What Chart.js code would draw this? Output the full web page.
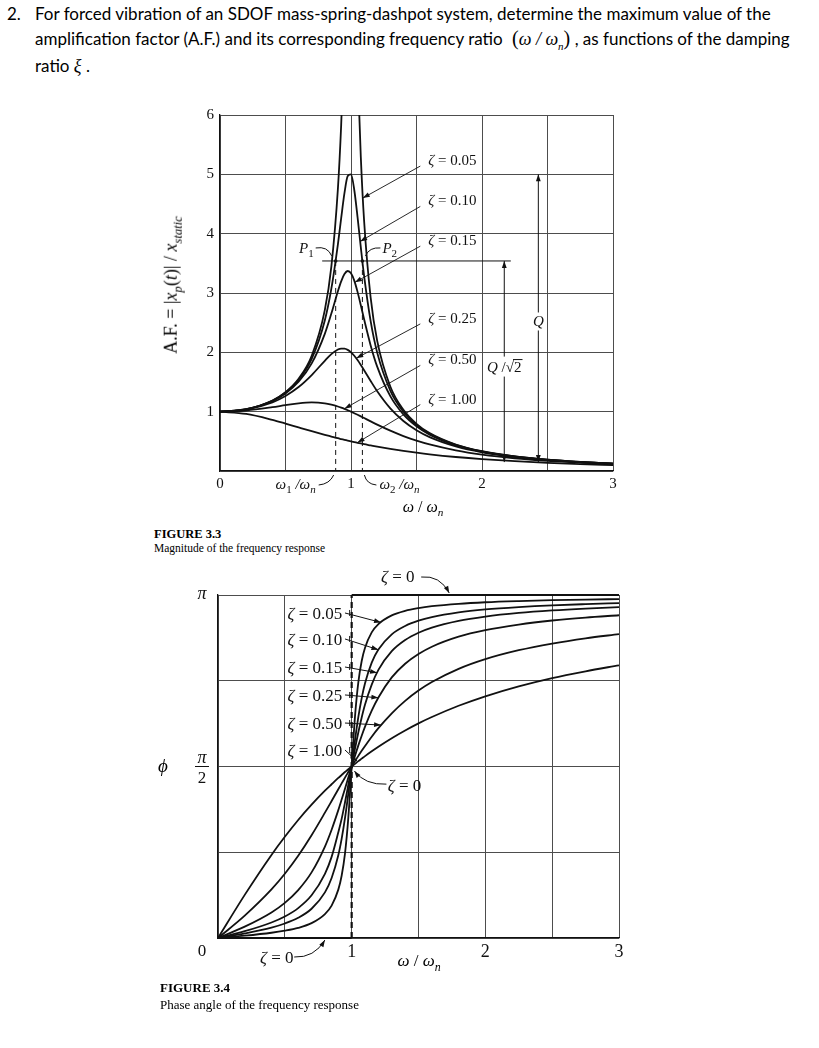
<!DOCTYPE html>
<html>
<head>
<meta charset="utf-8">
<title>Frequency response of an SDOF system</title>
<script src="https://cdn.jsdelivr.net/npm/chart.js@4.4.1/dist/chart.umd.min.js"></script>
<style>
  body { margin: 0; background: #fff; }
  #page { position: relative; width: 819px; height: 1048px; overflow: hidden; color: #000; }
  .q { position: absolute; font-family: Lato, "Open Sans", sans-serif; font-size: 17px; white-space: nowrap; line-height: 20px; }
  .mth { font-family: "Liberation Serif", serif; font-style: italic; font-size: 18px; }
  .mth sub { font-size: 11px; }
  .par { font-family: "Liberation Serif", serif; font-size: 20px; }
  .lbl { position: absolute; font-family: "Liberation Serif", serif; white-space: nowrap; transform: translate(-50%, -50%); }
  .lbl i sub, .lbl sub { font-size: 0.7em; }
  .cap { position: absolute; font-family: "Liberation Serif", serif; white-space: nowrap; line-height: 16px; }
  canvas { position: absolute; }
</style>
</head>
<body>
<div id="page">
  <div class="q" style="left:7px;top:4px">2.</div>
  <div class="q" style="left:35px;top:4px">For forced vibration of an SDOF mass-spring-dashpot system, determine the maximum value of the</div>
  <div class="q" style="left:35px;top:28px">amplification factor (A.F.) and its corresponding frequency ratio <span class="par" style="margin-left:5px">(</span><span class="mth">ω / ω<sub>n</sub></span><span class="par">)</span> , as functions of the damping</div>
  <div class="q" style="left:35px;top:56px">ratio <span class="mth">ξ</span> .</div>

  <canvas id="af" width="500" height="430" style="left:130px;top:95px"></canvas>
  <div class="lbl" style="left:173px;top:285px;font-size:18px;transform:translate(-50%,-50%) rotate(-90deg)">A.F. = |<i>x<sub>p</sub></i>(<i>t</i>)| / <i>x<sub>static</sub></i></div>
  <div class="lbl" style="left:423px;top:508px;font-size:16px"><i>ω</i> / <i>ω<sub>n</sub></i></div>
  <div class="cap" style="left:154px;top:526px;font-size:12.5px;font-weight:bold">FIGURE 3.3</div>
  <div class="cap" style="left:154px;top:540px;font-size:11.5px">Magnitude of the frequency response</div>

  <canvas id="phase" width="510" height="430" style="left:130px;top:555px"></canvas>
  <div class="lbl" style="left:163px;top:766px;font-size:19px"><i>ϕ</i></div>
  <div class="lbl" style="left:419px;top:963px;font-size:17px"><i>ω</i> / <i>ω<sub>n</sub></i></div>
  <div class="cap" style="left:160px;top:980px;font-size:13px;font-weight:bold">FIGURE 3.4</div>
  <div class="cap" style="left:160px;top:997px;font-size:13px">Phase angle of the frequency response</div>
</div>
<script>
// frequency ratio w/wn shared by every curve
const ratio = [0, 0.2, 0.4, 0.5, 0.6, 0.7, 0.8, 0.85, 0.9, 0.925, 0.95, 0.975, 1, 1.025, 1.05, 1.075, 1.1, 1.15, 1.2, 1.3, 1.4, 1.5, 1.6, 1.8, 2, 2.25, 2.5, 2.75, 3];
const zetas = ['0.05', '0.10', '0.15', '0.25', '0.50', '1.00'];

// amplification factor
const afZ005 = [1, 1.041, 1.189, 1.330, 1.556, 1.943, 2.712, 3.446, 4.757, 5.832, 7.346, 9.150, 10, 8.747, 6.815, 5.287, 4.218, 2.921, 2.193, 1.424, 1.031, 0.794, 0.638, 0.445, 0.333, 0.246, 0.190, 0.152, 0.125];
const afZ010 = [1, 1.041, 1.185, 1.322, 1.536, 1.891, 2.538, 3.073, 3.821, 4.261, 4.683, 4.971, 5, 4.736, 4.279, 3.768, 3.288, 2.525, 1.995, 1.356, 1.000, 0.778, 0.628, 0.441, 0.330, 0.245, 0.190, 0.152, 0.125];
const afZ015 = [1, 1.040, 1.179, 1.307, 1.504, 1.813, 2.311, 2.653, 3.029, 3.197, 3.320, 3.371, 3.333, 3.209, 3.019, 2.793, 2.557, 2.117, 1.759, 1.262, 0.954, 0.753, 0.613, 0.434, 0.327, 0.243, 0.189, 0.151, 0.124];
const afZ025 = [1, 1.036, 1.158, 1.265, 1.415, 1.617, 1.858, 1.970, 2.047, 2.064, 2.062, 2.041, 2.000, 1.942, 1.870, 1.787, 1.699, 1.517, 1.344, 1.055, 0.842, 0.686, 0.570, 0.414, 0.316, 0.237, 0.185, 0.149, 0.123];
const afZ050 = [1, 1.020, 1.075, 1.109, 1.140, 1.155, 1.140, 1.118, 1.087, 1.068, 1.047, 1.024, 1.000, 0.974, 0.948, 0.921, 0.893, 0.837, 0.782, 0.680, 0.589, 0.512, 0.448, 0.348, 0.277, 0.215, 0.172, 0.141, 0.117];
const afZ100 = [1, 0.962, 0.862, 0.800, 0.735, 0.671, 0.610, 0.581, 0.552, 0.539, 0.526, 0.513, 0.500, 0.488, 0.476, 0.464, 0.452, 0.431, 0.410, 0.372, 0.338, 0.308, 0.281, 0.236, 0.200, 0.165, 0.138, 0.117, 0.100];

// phase angle (radians)
const phZ005 = [0, 0.021, 0.048, 0.067, 0.093, 0.136, 0.219, 0.297, 0.443, 0.570, 0.772, 1.102, 1.571, 2.030, 2.344, 2.537, 2.659, 2.799, 2.875, 2.955, 2.997, 3.022, 3.039, 3.061, 3.075, 3.086, 3.094, 3.100, 3.104];
const phZ010 = [0, 0.042, 0.095, 0.133, 0.185, 0.268, 0.418, 0.550, 0.758, 0.908, 1.097, 1.323, 1.571, 1.813, 2.025, 2.197, 2.333, 2.522, 2.642, 2.781, 2.858, 2.906, 2.939, 2.982, 3.009, 3.031, 3.047, 3.058, 3.067];
const phZ015 = [0, 0.062, 0.142, 0.197, 0.274, 0.391, 0.588, 0.743, 0.968, 1.091, 1.241, 1.404, 1.571, 1.734, 1.885, 2.020, 2.138, 2.321, 2.456, 2.627, 2.729, 2.796, 2.843, 2.905, 2.944, 2.977, 3.000, 3.017, 3.030];
const phZ025 = [0, 0.104, 0.234, 0.322, 0.439, 0.601, 0.838, 0.992, 1.171, 1.268, 1.368, 1.470, 1.571, 1.669, 1.764, 1.853, 1.936, 2.082, 2.203, 2.387, 2.512, 2.601, 2.668, 2.760, 2.820, 2.871, 2.908, 2.935, 2.956];
const phZ050 = [0, 0.205, 0.445, 0.588, 0.753, 0.941, 1.148, 1.255, 1.363, 1.416, 1.469, 1.520, 1.571, 1.620, 1.668, 1.715, 1.759, 1.844, 1.922, 2.058, 2.172, 2.266, 2.344, 2.465, 2.554, 2.636, 2.697, 2.745, 2.783];
const phZ100 = [0, 0.395, 0.761, 0.927, 1.081, 1.221, 1.349, 1.408, 1.466, 1.493, 1.520, 1.545, 1.571, 1.595, 1.620, 1.643, 1.666, 1.710, 1.752, 1.830, 1.901, 1.966, 2.024, 2.127, 2.214, 2.305, 2.381, 2.443, 2.498];

// undamped phase: 0 below resonance, pi above
const zeta0Ratio = [0, 1, 1, 3];
const zeta0Phase = [0, 0, Math.PI, Math.PI];

// half power points and peak of the zeta = 0.10 curve
const halfPowerRatio = [0.883, 1.087];
const qPeak = 5;
const qHalf = 3.54;

const serif = '"Liberation Serif", "Times New Roman", serif';
const ink = '#111';
Chart.defaults.font.family = serif;
Chart.defaults.color = ink;

function series(xs, ys) {
  return xs.map((x, i) => ({ x: x, y: ys[i] }));
}

function curve(ys) {
  return {
    data: series(ratio, ys),
    borderColor: ink,
    borderWidth: 1.8,
    pointRadius: 0,
    cubicInterpolationMode: 'monotone',
    fill: false
  };
}

function line(ctx, x1, y1, x2, y2) {
  ctx.beginPath();
  ctx.moveTo(x1, y1);
  ctx.lineTo(x2, y2);
  ctx.stroke();
}

function head(ctx, fx, fy, tx, ty) {
  const a = Math.atan2(ty - fy, tx - fx), len = 7, half = 2.4;
  ctx.beginPath();
  ctx.moveTo(tx, ty);
  ctx.lineTo(tx - len * Math.cos(a) + half * Math.sin(a), ty - len * Math.sin(a) - half * Math.cos(a));
  ctx.lineTo(tx - len * Math.cos(a) - half * Math.sin(a), ty - len * Math.sin(a) + half * Math.cos(a));
  ctx.closePath();
  ctx.fill();
}

function arrow(ctx, x1, y1, x2, y2) {
  line(ctx, x1, y1, x2, y2);
  head(ctx, x1, y1, x2, y2);
}

function bend(ctx, x1, y1, cx, cy, x2, y2, tip) {
  ctx.beginPath();
  ctx.moveTo(x1, y1);
  ctx.quadraticCurveTo(cx, cy, x2, y2);
  ctx.stroke();
  if (tip) head(ctx, cx, cy, x2, y2);
}

// parts: [text, style]  r roman, i italic, s italic subscript, sr roman subscript
function rich(ctx, parts, x, y, size, align) {
  const font = st => (st === 'i' || st === 's' ? 'italic ' : '') + Math.round(st[0] === 's' ? size * 0.7 : size) + 'px ' + serif;
  let w = 0;
  parts.forEach(([t, st]) => { ctx.font = font(st); w += ctx.measureText(t).width; });
  let cx = align === 'center' ? x - w / 2 : align === 'right' ? x - w : x;
  ctx.textAlign = 'left';
  ctx.textBaseline = 'alphabetic';
  parts.forEach(([t, st]) => {
    ctx.font = font(st);
    ctx.fillText(t, cx, st[0] === 's' ? y + size * 0.25 : y);
    cx += ctx.measureText(t).width;
  });
  return w;
}

const afLabels = [
  { x: 1.59, y: 5.24, tx: 1.09, ty: 4.6 },
  { x: 1.59, y: 4.56, tx: 1.07, ty: 3.87 },
  { x: 1.59, y: 3.89, tx: 1.03, ty: 3.18 },
  { x: 1.59, y: 2.58, tx: 1.04, ty: 1.9 },
  { x: 1.59, y: 1.88, tx: 0.95, ty: 1.05 },
  { x: 1.59, y: 1.22, tx: 1.05, ty: 0.48 }
];

const afNotes = {
  id: 'afNotes',
  afterDatasetsDraw(chart) {
    const { ctx, scales: { x, y } } = chart;
    const X = v => x.getPixelForValue(v), Y = v => y.getPixelForValue(v);
    ctx.save();
    ctx.strokeStyle = ink;
    ctx.fillStyle = ink;
    ctx.lineWidth = 1;

    const p1x = X(halfPowerRatio[0]), p2x = X(halfPowerRatio[1]), ph = Y(qHalf), base = Y(0);
    line(ctx, X(0.78), ph, X(2.22), ph);
    ctx.setLineDash([5, 4]);
    line(ctx, p1x, ph, p1x, base);
    line(ctx, p2x, ph, p2x, base);
    ctx.setLineDash([]);
    [p1x, p2x].forEach(px => { ctx.beginPath(); ctx.arc(px, ph, 1.8, 0, Math.PI * 2); ctx.fill(); });

    rich(ctx, [['P', 'i'], ['1', 'sr']], p1x - 22, ph - 8, 15, 'right');
    bend(ctx, p1x - 20, ph - 13, p1x - 8, ph - 15, p1x - 4, ph - 5);
    rich(ctx, [['P', 'i'], ['2', 'sr']], p2x + 20, ph - 8, 15, 'left');
    bend(ctx, p2x + 18, ph - 13, p2x + 7, ph - 14, p2x + 3, ph - 5);

    rich(ctx, [['ω', 'i'], ['1', 'sr'], [' /ω', 'i'], ['n', 's']], p1x - 20, base + 18, 15, 'right');
    bend(ctx, p1x - 17, base + 14, p1x - 6, base + 13, p1x - 2, base + 4);
    rich(ctx, [['ω', 'i'], ['2', 'sr'], [' /ω', 'i'], ['n', 's']], p2x + 17, base + 18, 15, 'left');
    bend(ctx, p2x + 14, base + 14, p2x + 4, base + 13, p2x + 2, base + 4);

    // Q and Q/sqrt2 arrows
    const qx = X(2.43), hx = X(2.17), low = Y(0.15);
    line(ctx, qx, Y(qPeak), qx, low);
    head(ctx, qx, Y(qPeak) + 10, qx, Y(qPeak));
    head(ctx, qx, low - 10, qx, low);
    line(ctx, hx, ph, hx, low);
    head(ctx, hx, ph + 10, hx, ph);
    head(ctx, hx, low - 10, hx, low);

    const qy = Y(2.52);
    ctx.fillStyle = '#fff';
    ctx.fillRect(qx - 7, qy - 9, 14, 18);
    ctx.fillStyle = ink;
    rich(ctx, [['Q', 'i']], qx, qy + 5, 15, 'center');

    const hy = Y(1.76);
    ctx.font = 'italic 15px ' + serif;
    const wq = ctx.measureText('Q').width;
    ctx.font = '15px ' + serif;
    const ws = ctx.measureText(' /√').width, w2 = ctx.measureText('2').width;
    let sx = hx - (wq + ws + w2) / 2;
    ctx.fillStyle = '#fff';
    ctx.fillRect(sx - 3, hy - 10, wq + ws + w2 + 6, 20);
    ctx.fillStyle = ink;
    ctx.font = 'italic 15px ' + serif;
    ctx.fillText('Q', sx, hy + 5);
    sx += wq;
    ctx.font = '15px ' + serif;
    ctx.fillText(' /√', sx, hy + 5);
    sx += ws;
    ctx.fillText('2', sx, hy + 5);
    line(ctx, sx - 1, hy - 7, sx + w2 + 1, hy - 7);

    ctx.lineWidth = 0.9;
    afLabels.forEach((l, i) => {
      const lx = X(l.x), ly = Y(l.y);
      rich(ctx, [['ζ', 'i'], [' = ' + zetas[i], 'r']], lx, ly + 5, 14.5, 'left');
      arrow(ctx, lx - 8, ly + 6, X(l.tx), Y(l.ty));
    });
    ctx.restore();
  }
};

const phLabels = [
  { x: 0.52, y: 2.977, tx: 1.22, ty: 2.89 },
  { x: 0.52, y: 2.739, tx: 1.2, ty: 2.64 },
  { x: 0.52, y: 2.482, tx: 1.19, ty: 2.43 },
  { x: 0.52, y: 2.226, tx: 1.2, ty: 2.2 },
  { x: 0.52, y: 1.969, tx: 1.22, ty: 1.95 },
  { x: 0.52, y: 1.722, tx: 1.04, ty: 1.62 }
];

const phNotes = {
  id: 'phNotes',
  afterDatasetsDraw(chart) {
    const { ctx, scales: { x, y } } = chart;
    const X = v => x.getPixelForValue(v), Y = v => y.getPixelForValue(v);
    ctx.save();
    ctx.strokeStyle = ink;
    ctx.fillStyle = ink;
    ctx.lineWidth = 1;

    // y axis labels: pi, pi/2, 0
    const lx = X(0) - 16;
    rich(ctx, [['π', 'i']], lx, Y(Math.PI) + 4, 18, 'center');
    rich(ctx, [['π', 'i']], lx, Y(Math.PI / 2) - 4, 18, 'center');
    line(ctx, lx - 7, Y(Math.PI / 2), lx + 7, Y(Math.PI / 2));
    rich(ctx, [['2', 'r']], lx, Y(Math.PI / 2) + 16, 17, 'center');
    rich(ctx, [['0', 'r']], lx, Y(0) + 18, 17, 'center');

    phLabels.forEach((l, i) => {
      const ly = Y(l.y);
      rich(ctx, [['ζ', 'i'], [' = ' + zetas[i], 'r']], X(l.x), ly + 6, 16.5, 'left');
      line(ctx, X(0.985), ly - 3, X(0.985), ly + 3);
      arrow(ctx, X(0.95), ly, X(l.tx), Y(l.ty));
    });

    // zeta = 0 notes
    const top = Y(Math.PI), base = Y(0);
    rich(ctx, [['ζ', 'i'], [' = 0', 'r']], X(1.345), top - 13, 17, 'center');
    bend(ctx, X(1.52), top - 18, X(1.66), top - 20, X(1.73), top - 2, true);
    rich(ctx, [['ζ', 'i'], [' = 0', 'r']], X(1.27), Y(1.4) + 6, 17, 'left');
    bend(ctx, X(1.26), Y(1.4) - 1, X(1.1), Y(1.4), X(1.02), Y(1.53), true);
    rich(ctx, [['ζ', 'i'], [' = 0', 'r']], X(0.44), base + 25, 17, 'center');
    bend(ctx, X(0.57), base + 19, X(0.72), base + 20, X(0.8), base + 2, true);
    ctx.restore();
  }
};

const grid = { color: '#4d4d4d', lineWidth: 1, drawTicks: false };
const border = { color: ink, width: 1.3 };

new Chart(document.getElementById('af'), {
  type: 'line',
  data: { datasets: [afZ005, afZ010, afZ015, afZ025, afZ050, afZ100].map(curve) },
  options: {
    responsive: false,
    animation: false,
    devicePixelRatio: 1,
    layout: { padding: { top: 20, right: 17, left: 0, bottom: 0 } },
    plugins: { legend: { display: false }, tooltip: { enabled: false } },
    scales: {
      x: {
        type: 'linear', min: 0, max: 3,
        ticks: { stepSize: 0.5, autoSkip: false, maxRotation: 0, padding: 4, font: { size: 15 },
                 callback: v => Number.isInteger(v) ? String(v) : '' },
        grid: grid, border: border,
        afterFit: s => { s.height = 54; }
      },
      y: {
        min: 0, max: 6,
        ticks: { stepSize: 1, padding: 6, font: { size: 15 }, callback: v => v === 0 ? '' : String(v) },
        grid: grid, border: border,
        afterFit: s => { s.width = 90; }
      }
    }
  },
  plugins: [afNotes]
});

const phaseSets = [phZ005, phZ010, phZ015, phZ025, phZ050, phZ100].map(curve);
phaseSets.push({
  data: series(zeta0Ratio, zeta0Phase),
  borderColor: ink,
  borderWidth: 2.2,
  pointRadius: 0,
  tension: 0,
  clip: 4,
  segment: { borderDash: c => c.p0.parsed.x === c.p1.parsed.x ? [6, 4] : undefined }
});

new Chart(document.getElementById('phase'), {
  type: 'line',
  data: { datasets: phaseSets },
  options: {
    responsive: false,
    animation: false,
    devicePixelRatio: 1,
    layout: { padding: { top: 40, right: 21, left: 0, bottom: 0 } },
    plugins: { legend: { display: false }, tooltip: { enabled: false } },
    scales: {
      x: {
        type: 'linear', min: 0, max: 3,
        ticks: { stepSize: 0.5, autoSkip: false, maxRotation: 0, padding: 3, font: { size: 18 },
                 callback: v => Number.isInteger(v) && v > 0 ? String(v) : '' },
        grid: grid, border: border,
        afterFit: s => { s.height = 47; }
      },
      y: {
        min: 0, max: Math.PI,
        afterBuildTicks: s => { s.ticks = [0, 1, 2, 3, 4].map(k => ({ value: k * Math.PI / 4 })); },
        ticks: { display: false },
        grid: grid, border: border,
        afterFit: s => { s.width = 88; }
      }
    }
  },
  plugins: [phNotes]
});
</script>
</body>
</html>
